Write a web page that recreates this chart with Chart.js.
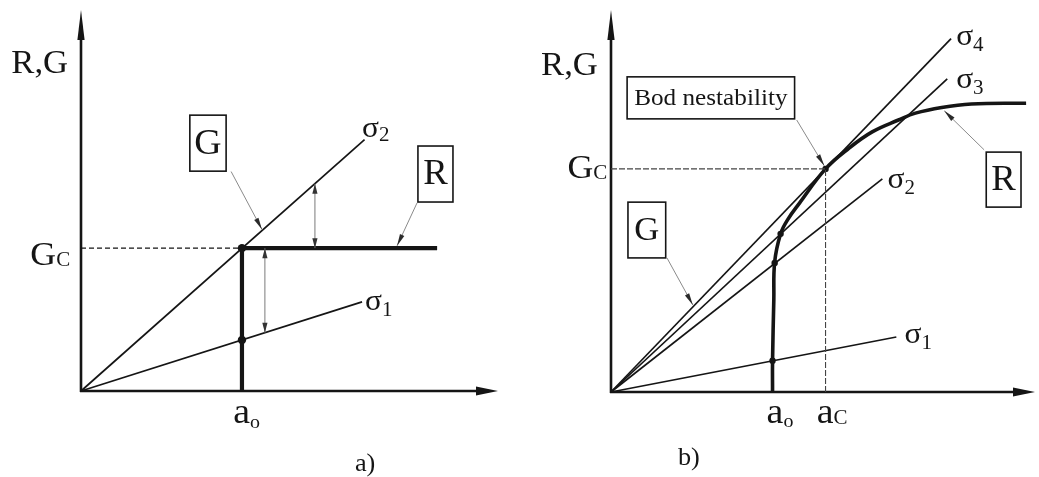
<!DOCTYPE html>
<html>
<head>
<meta charset="utf-8">
<script src="https://cdn.jsdelivr.net/npm/chart.js@4.4.1/dist/chart.umd.min.js"></script>
<style>
  html, body { margin: 0; padding: 0; background: #fff; }
  #wrap { position: relative; width: 1039px; height: 477px; overflow: hidden; background: #fff; }
  canvas { position: absolute; top: 0; }
  #ca { left: 0; }
  #cb { left: 530px; }
</style>
</head>
<body>
<div id="wrap">
  <canvas id="ca" width="530" height="477"></canvas>
  <canvas id="cb" width="509" height="477"></canvas>
</div>
<script>
// ---------- panel a): constant resistance R ----------
const aSigma1X = [0, 67.4], aSigma1Y = [0, 23.4];
const aSigma2X = [0, 68.0], aSigma2Y = [0, 66.0];
const aResX = [38.6, 38.6, 85.4], aResY = [0, 37.5, 37.5];
const aGc = 37.5, aA0 = 38.6;
const aDotX = [38.6, 38.6], aDotY = [37.5, 13.4];
const aGapX = [56.1, 44.1], aGapTop = [54.4, 37.5], aGapBottom = [37.5, 15.3];

// ---------- panel b): rising resistance curve R ----------
const bSigmaNames = ['1', '2', '3', '4'];
const bSigmaEndX = [67.3, 64.0, 79.3, 80.2];
const bSigmaEndY = [14.4, 55.8, 82.0, 92.5];
const bResX = [38.1, 38.1, 38.4, 38.6, 40.0, 41.6, 44.5, 50.6, 56.1, 61.6, 67.8, 71.8, 78.0, 85.0, 97.9];
const bResY = [0, 8.1, 24.1, 34.0, 41.4, 45.0, 49.5, 58.4, 63.8, 68.1, 71.2, 73.0, 74.5, 75.4, 75.6];
const bGc = 58.4, bA0 = 38.1, bAc = 50.6;
const bDotX = [38.1, 38.6, 40.0, 50.6], bDotY = [8.2, 33.8, 41.4, 58.4];

const SERIF = '"Liberation Serif", "Times New Roman", serif';
const INK = '#151515';
const TEXT_STRETCH = 1.05;   // lettering is set slightly wide

const pts = (xs, ys) => xs.map((x, i) => ({ x, y: ys[i] }));

function lineSet(data, width, extra) {
  return Object.assign({
    data, showLine: true, borderColor: INK, borderWidth: width,
    pointRadius: 0, tension: 0, clip: false,
    borderCapStyle: 'butt', borderJoinStyle: 'miter'
  }, extra || {});
}
function dotSet(xs, ys, r) {
  return { data: pts(xs, ys), showLine: false, pointRadius: r, pointBackgroundColor: INK,
           pointBorderColor: INK, pointBorderWidth: 0, clip: false };
}

// arrowhead with its tip at (tx, ty), pointing along (dx, dy)
function arrowHead(ctx, tx, ty, dx, dy, len, half, color) {
  const d = Math.hypot(dx, dy) || 1;
  const ux = dx / d, uy = dy / d;
  const bx = tx - ux * len, by = ty - uy * len;
  ctx.beginPath();
  ctx.moveTo(tx, ty);
  ctx.lineTo(bx - uy * half, by + ux * half);
  ctx.lineTo(bx + uy * half, by - ux * half);
  ctx.closePath();
  ctx.fillStyle = color;
  ctx.fill();
}

// horizontally widened text, left-aligned at x on baseline y
function wideText(ctx, str, x, y, size, sx) {
  ctx.save();
  ctx.font = size + 'px ' + SERIF;
  ctx.translate(x, y);
  ctx.scale(sx, 1);
  ctx.fillText(str, 0, 0);
  ctx.restore();
}
function wideWidth(ctx, str, size, sx) {
  ctx.font = size + 'px ' + SERIF;
  return ctx.measureText(str).width * sx;
}

const decor = {
  id: 'decor',
  beforeDatasetsDraw(chart) {
    const { ctx, chartArea: a } = chart;
    ctx.save();
    ctx.strokeStyle = INK;
    ctx.lineWidth = 2.6;
    ctx.beginPath();
    ctx.moveTo(a.left, a.bottom + 1);
    ctx.lineTo(a.left, a.top + 20);
    ctx.moveTo(a.left - 1, a.bottom);
    ctx.lineTo(a.right - 14, a.bottom);
    ctx.stroke();
    arrowHead(ctx, a.left, a.top, 0, -1, 30, 3.6, INK);
    arrowHead(ctx, a.right, a.bottom, 1, 0, 22, 4.6, INK);
    ctx.restore();
  },
  afterDatasetsDraw(chart, args, o) {
    const { ctx } = chart;
    const xs = chart.scales.x, ys = chart.scales.y;
    const X = v => xs.getPixelForValue(v), Y = v => ys.getPixelForValue(v);
    ctx.save();
    // pointer lines from the boxed labels
    (o.leaders || []).forEach(l => {
      const x1 = X(l.from[0]), y1 = Y(l.from[1]), x2 = X(l.to[0]), y2 = Y(l.to[1]);
      ctx.strokeStyle = '#8a8a8a';
      ctx.lineWidth = 1;
      ctx.beginPath(); ctx.moveTo(x1, y1); ctx.lineTo(x2, y2); ctx.stroke();
      arrowHead(ctx, x2, y2, x2 - x1, y2 - y1, 12, 2.4, '#2a2a2a');
    });
    // two-headed gap arrows
    (o.gaps || []).forEach(g => {
      const x = X(g.x), y1 = Y(g.y1), y2 = Y(g.y2);
      ctx.strokeStyle = '#7a7a7a';
      ctx.lineWidth = 1;
      ctx.beginPath(); ctx.moveTo(x, y1); ctx.lineTo(x, y2); ctx.stroke();
      arrowHead(ctx, x, y1, 0, y1 - y2, 10, 2.6, '#333');
      arrowHead(ctx, x, y2, 0, y2 - y1, 10, 2.6, '#333');
    });
    // framed labels
    (o.boxes || []).forEach(b => {
      const x1 = X(b.x1), x2 = X(b.x2), y1 = Y(b.y2), y2 = Y(b.y1);
      ctx.fillStyle = '#fff';
      ctx.fillRect(x1, y1, x2 - x1, y2 - y1);
      ctx.strokeStyle = INK;
      ctx.lineWidth = 1.6;
      ctx.strokeRect(x1, y1, x2 - x1, y2 - y1);
      ctx.fillStyle = INK;
      ctx.textAlign = 'left';
      ctx.textBaseline = 'middle';
      const w = wideWidth(ctx, b.text, b.size, TEXT_STRETCH);
      wideText(ctx, b.text, (x1 + x2) / 2 - w / 2, (y1 + y2) / 2 + 1, b.size, TEXT_STRETCH);
    });
    // plain labels, optionally with a subscript
    (o.texts || []).forEach(t => {
      ctx.fillStyle = INK;
      ctx.textBaseline = 'alphabetic';
      ctx.textAlign = 'left';
      const w1 = wideWidth(ctx, t.text, t.size, TEXT_STRETCH);
      const w2 = t.sub ? wideWidth(ctx, t.sub, t.subSize, TEXT_STRETCH) : 0;
      let x = X(t.x);
      const y = Y(t.y);
      if (t.align === 'right') x -= (w1 + w2);
      wideText(ctx, t.text, x, y, t.size, TEXT_STRETCH);
      if (t.sub) wideText(ctx, t.sub, x + w1, y + (t.subDy || 0), t.subSize, TEXT_STRETCH);
    });
    ctx.restore();
  }
};

function build(id, datasets, padding, decorOpts) {
  return new Chart(document.getElementById(id), {
    type: 'scatter',
    data: { datasets },
    options: {
      responsive: false,
      animation: false,
      events: [],
      layout: { padding },
      scales: {
        x: { type: 'linear', min: 0, max: 100, display: false },
        y: { type: 'linear', min: 0, max: 100, display: false }
      },
      plugins: { legend: { display: false }, tooltip: { enabled: false }, decor: decorOpts }
    },
    plugins: [decor]
  });
}

// panel a)
build('ca', [
  lineSet(pts([0, aA0], [aGc, aGc]), 1.3, { borderDash: [5, 3] }),
  lineSet(pts(aSigma1X, aSigma1Y), 1.7),
  lineSet(pts(aSigma2X, aSigma2Y), 1.7),
  lineSet(pts(aResX, aResY), 4.2),
  dotSet(aDotX, aDotY, 4.2)
], { left: 81, right: 32, top: 10, bottom: 86 }, {
  gaps: aGapX.map((x, i) => ({ x, y1: aGapTop[i], y2: aGapBottom[i] })),
  leaders: [
    { from: [36.0, 57.6], to: [43.4, 42.4] },
    { from: [80.6, 49.4], to: [75.8, 38.1] }
  ],
  boxes: [
    { x1: 26.1, x2: 34.8, y1: 57.7, y2: 72.4, text: 'G', size: 36 },
    { x1: 80.8, x2: 89.2, y1: 49.6, y2: 64.3, text: 'R', size: 35 }
  ],
  texts: [
    { x: -3.1, y: 83.5, text: 'R,G', size: 33, align: 'right' },
    { x: -2.6, y: 33.1, text: 'G', sub: 'C', size: 34, subSize: 20, subDy: 1, align: 'right' },
    { x: 36.5, y: -8.4, text: 'a', sub: 'o', size: 36, subSize: 19, subDy: 5 },
    { x: 65.7, y: -21.0, text: 'a)', size: 25 },
    { x: 67.4, y: 66.7, text: 'σ', sub: '2', size: 30, subSize: 20, subDy: 4 },
    { x: 68.1, y: 21.3, text: 'σ', sub: '1', size: 30, subSize: 20, subDy: 6 }
  ]
});

// panel b)
const bSets = [
  lineSet(pts([0, bAc], [bGc, bGc]), 1.1, { borderDash: [6, 2], borderColor: '#444' }),
  lineSet(pts([bAc, bAc], [0, bGc]), 1.1, { borderDash: [6, 2], borderColor: '#444' })
];
bSigmaEndX.forEach((x, i) => bSets.push(lineSet(pts([0, x], [0, bSigmaEndY[i]]), 1.7)));
bSets.push(lineSet(pts(bResX, bResY), 3.6, { tension: 0.4, borderJoinStyle: 'round' }));
bSets.push(dotSet(bDotX, bDotY, 3.2));

const bSigmaLabelX = [69.2, 65.2, 81.4, 81.4];
const bSigmaLabelY = [12.8, 53.4, 79.6, 90.8];
build('cb', bSets, { left: 81, right: 2, top: 10, bottom: 85 }, {
  leaders: [
    { from: [43.8, 71.2], to: [50.3, 59.2] },
    { from: [13.2, 35.1], to: [19.3, 22.8] },
    { from: [88.0, 63.4], to: [78.6, 73.6] }
  ],
  boxes: [
    { x1: 3.8, x2: 43.3, y1: 71.5, y2: 82.5, text: 'Bod nestability', size: 24 },
    { x1: 4.0, x2: 12.9, y1: 35.1, y2: 49.7, text: 'G', size: 33 },
    { x1: 88.5, x2: 96.7, y1: 48.4, y2: 62.8, text: 'R', size: 35 }
  ],
  texts: [
    { x: -3.1, y: 83.0, text: 'R,G', size: 33, align: 'right' },
    { x: -0.9, y: 56.0, text: 'G', sub: 'C', size: 34, subSize: 20, subDy: 1, align: 'right' },
    { x: 36.7, y: -8.1, text: 'a', sub: 'o', size: 36, subSize: 19, subDy: 4 },
    { x: 48.5, y: -8.1, text: 'a', sub: 'C', size: 36, subSize: 20, subDy: 1 },
    { x: 15.8, y: -19.1, text: 'b)', size: 25 }
  ].concat(bSigmaNames.map((n, i) => ({
    x: bSigmaLabelX[i], y: bSigmaLabelY[i], text: 'σ', sub: n, size: 30, subSize: 20, subDy: 6
  })))
});
</script>
</body>
</html>
